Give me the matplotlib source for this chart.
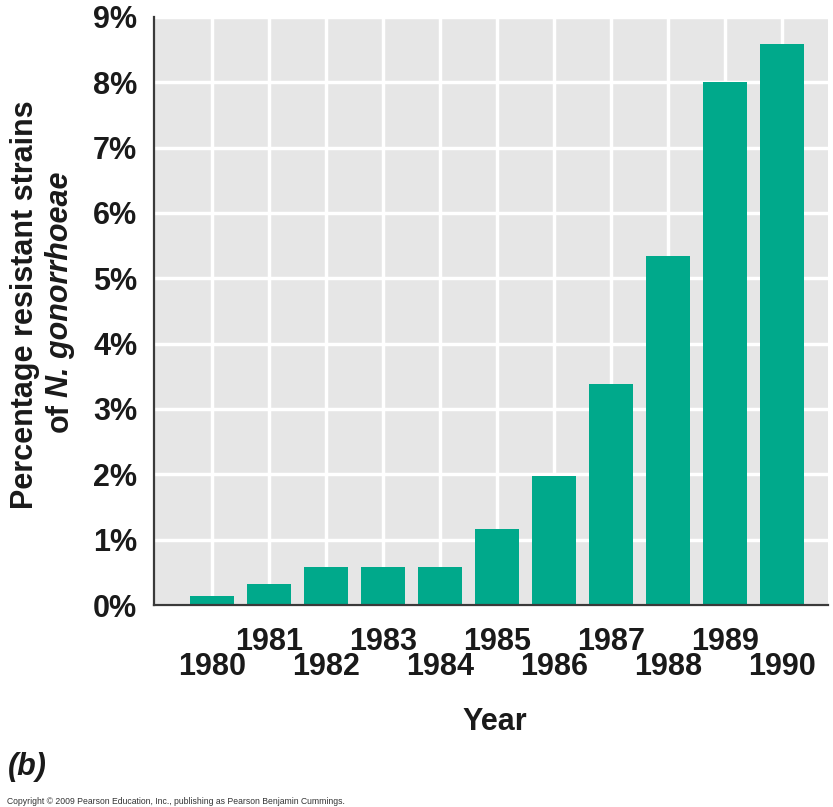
import matplotlib
matplotlib.use("Agg")
import matplotlib.pyplot as plt

plt.rcParams['font.family'] = ['Liberation Sans', 'DejaVu Sans']

# data
years = [1980, 1981, 1982, 1983, 1984, 1985, 1986, 1987, 1988, 1989, 1990]
resistant_pct = [0.14, 0.32, 0.58, 0.58, 0.58, 1.16, 1.98, 3.38, 5.34, 8.01, 8.59]
y_ticks = [0, 1, 2, 3, 4, 5, 6, 7, 8, 9]

bar_color = '#00A98B'
bg_color = '#E6E6E6'
text_color = '#1A1A1A'
W, H = 833, 807

fig = plt.figure(figsize=(8.33, 8.07), dpi=100)
ax = fig.add_axes([0.1849, 0.2503, 0.8091, 0.7287])
ax.set_facecolor(bg_color)

pos = list(range(len(years)))
ax.bar(pos, resistant_pct, width=0.77, color=bar_color, zorder=3)

ax.set_xlim(-1.02, 10.8)
ax.set_ylim(0, 9)

# staggered year labels: even years on major ticks, odd years on minor ticks
even = [i for i in pos if years[i] % 2 == 0]
odd = [i for i in pos if years[i] % 2 == 1]
ax.set_xticks(even, [str(years[i]) for i in even])
ax.set_xticks(odd, [str(years[i]) for i in odd], minor=True)
ax.tick_params(axis='x', which='major', length=0, pad=34)
ax.tick_params(axis='x', which='minor', length=0, pad=15.5)
for lab in ax.get_xticklabels(minor=False) + ax.get_xticklabels(minor=True):
    lab.set_fontsize(22)
    lab.set_fontweight('bold')
    lab.set_color(text_color)

ax.set_yticks(y_ticks, [f'{v}%' for v in y_ticks])
ax.tick_params(axis='y', length=0, pad=12, labelsize=22, labelcolor=text_color)
for lab in ax.get_yticklabels():
    lab.set_fontweight('bold')

ax.grid(True, which='both', axis='x', color='white', linewidth=2.5, zorder=1)
ax.grid(True, which='major', axis='y', color='white', linewidth=2.5, zorder=1)
ax.set_axisbelow(True)

for side in ['top', 'right']:
    ax.spines[side].set_visible(False)
for side in ['left', 'bottom']:
    ax.spines[side].set_color('#3A3A3A')
    ax.spines[side].set_linewidth(1.6)
    ax.spines[side].set_zorder(4)

fig.text(495 / W, 1 - 722 / H, 'Year', ha='center', va='center',
         fontsize=22, fontweight='bold', color=text_color)

# y label, two rotated lines, second one partly italic
lab_kw = dict(rotation=90, rotation_mode='anchor', va='baseline',
              fontsize=22, fontweight='bold', color=text_color)
fig.text(33 / W, 1 - 305 / H, 'Percentage resistant strains', ha='center', **lab_kw)

renderer = fig.canvas.get_renderer()
t_of = fig.text(68 / W, 0, 'of', ha='left', **lab_kw)
t_sp = fig.text(68 / W, 0, 'o', ha='left', **lab_kw)
t_sp.set_alpha(0)
t_it = fig.text(68 / W, 0, 'N. gonorrhoeae', ha='left', style='italic', **lab_kw)
h_of = t_of.get_window_extent(renderer).height
gap = 0.3 * t_sp.get_window_extent(renderer).height
h_it = t_it.get_window_extent(renderer).height
t_sp.remove()
total = h_of + gap + h_it
y0 = (H - 302) - total / 2
t_of.set_y(y0 / H)
t_it.set_y((y0 + h_of + gap) / H)

fig.text(8 / W, 1 - 767 / H, '(b)', ha='left', va='center',
         fontsize=22, fontweight='bold', style='italic', color=text_color)
fig.text(7 / W, 1 - 802 / H,
         'Copyright \u00a9 2009 Pearson Education, Inc., publishing as Pearson Benjamin Cummings.',
         ha='left', va='center', fontsize=6.2, color='#333333')

fig.savefig('out.png', dpi=100)
